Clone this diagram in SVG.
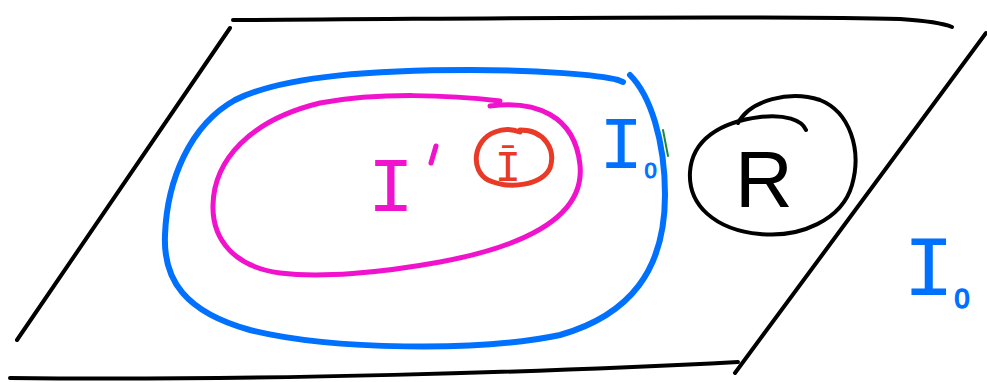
<svg xmlns="http://www.w3.org/2000/svg" width="987" height="382" viewBox="0 0 987 382">
<style>
.ink{fill:none;stroke-linecap:round;stroke-linejoin:round}
.k{stroke:#000;stroke-width:4}
.b{stroke:#0070ff;stroke-width:6}
.m{stroke:#f012cc;stroke-width:5}
.r{stroke:#e83a26;stroke-width:5}
.lbl{font-family:"Liberation Mono","DejaVu Sans Mono",monospace}
.sub{font-family:"Liberation Sans",sans-serif}
</style>
<rect width="987" height="382" fill="#fff"/>
<g id="connectors">
<path class="ink k" d="M233,20 C450,19 750,15 900,19 C930,21 945,24 952,27"/>
<path class="ink k" d="M230,28 L17,340"/>
<path class="ink k" d="M10,378 C250,381 550,372 738,362"/>
<path class="ink k" d="M986,33 L735,373"/>
</g>
<g id="I0-region">
<path class="ink b" d="M630,75 C650,95 665,140 665,195 C665,270 630,315 560,335 C480,352 330,350 250,330 C185,312 163,280 165,235 C167,180 190,125 235,100 C285,75 380,70 470,70 C540,70 600,75 618,80 L623,82"/>
<path class="ink" stroke="#1a8a3a" stroke-width="2" d="M663,130 L668,156"/>
<text class="lbl" x="599" y="168" font-size="74" fill="#0070ff">I<tspan class="sub" font-size="22" dx="1" dy="10" stroke="#0070ff" stroke-width="1">0</tspan></text>
</g>
<g id="I-prime-region">
<path class="ink m" d="M490,106 C535,100 575,115 580,165 C585,215 530,245 440,262 C380,273 320,278 280,273 C235,267 212,240 213,205 C214,160 250,120 320,103 C380,92 450,95 500,101"/>
<text class="lbl" x="391" y="211" font-size="78" text-anchor="middle" fill="#f012cc">I</text>
<path class="ink m" d="M436,146 L431,163"/>
</g>
<g id="I-bar">
<path class="ink r" d="M520,130 C545,130 556,150 550,168 C542,185 510,190 488,180 C470,170 473,140 495,132 C505,128 515,130 520,132"/>
<text class="lbl" x="508" y="181" font-size="44" text-anchor="middle" fill="#e83a26">Ī</text>
</g>
<g id="R">
<path class="ink k" d="M738,123 C750,100 790,90 820,100 C850,112 862,150 852,185 C842,220 800,238 760,234 C715,230 688,205 690,172 C692,140 720,122 760,117 C785,114 802,120 806,130"/>
<text x="764" y="207" font-family="Liberation Sans, sans-serif" font-size="80" text-anchor="middle" fill="#000">R</text>
</g>
<g id="I0-label">
<text class="lbl" x="903" y="295" font-size="86" fill="#0070ff">I<tspan class="sub" font-size="27" dy="13" stroke="#0070ff" stroke-width="1.5">0</tspan></text>
</g>
</svg>
